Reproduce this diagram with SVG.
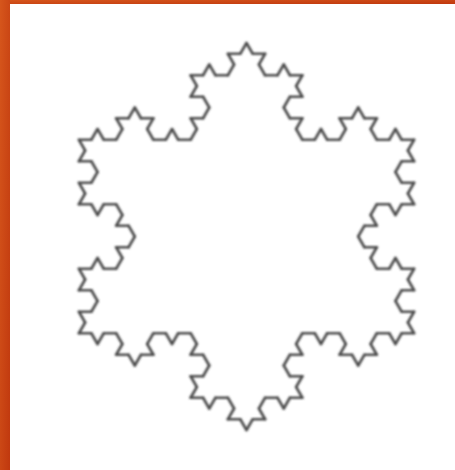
<svg xmlns="http://www.w3.org/2000/svg" xmlns:xlink="http://www.w3.org/1999/xlink" width="455" height="470" viewBox="0 0 455 470">
<style>
.seg{stroke:#4a4a4a;stroke-width:2.6;stroke-linecap:round;fill:none;vector-effect:non-scaling-stroke}
</style>
<defs>
<linearGradient id="frameGrad" x1="0" y1="0" x2="1" y2="1">
<stop offset="0" stop-color="#d6561c"/>
<stop offset="1" stop-color="#c0380e"/>
</linearGradient>
<filter id="soft" filterUnits="userSpaceOnUse" x="0" y="0" width="455" height="470">
<feGaussianBlur stdDeviation="1.3"/>
</filter>
<g id="k0"><line class="seg" x1="0" y1="0" x2="1" y2="0"/></g>
<g id="k1">
<use href="#k0" xlink:href="#k0" transform="scale(0.333333)"/>
<use href="#k0" xlink:href="#k0" transform="translate(0.333333,0) rotate(-60) scale(0.333333)"/>
<use href="#k0" xlink:href="#k0" transform="translate(0.5,-0.288675) rotate(60) scale(0.333333)"/>
<use href="#k0" xlink:href="#k0" transform="translate(0.666667,0) scale(0.333333)"/>
</g>
<g id="k2">
<use href="#k1" xlink:href="#k1" transform="scale(0.333333)"/>
<use href="#k1" xlink:href="#k1" transform="translate(0.333333,0) rotate(-60) scale(0.333333)"/>
<use href="#k1" xlink:href="#k1" transform="translate(0.5,-0.288675) rotate(60) scale(0.333333)"/>
<use href="#k1" xlink:href="#k1" transform="translate(0.666667,0) scale(0.333333)"/>
</g>
<g id="k3">
<use href="#k2" xlink:href="#k2" transform="scale(0.333333)"/>
<use href="#k2" xlink:href="#k2" transform="translate(0.333333,0) rotate(-60) scale(0.333333)"/>
<use href="#k2" xlink:href="#k2" transform="translate(0.5,-0.288675) rotate(60) scale(0.333333)"/>
<use href="#k2" xlink:href="#k2" transform="translate(0.666667,0) scale(0.333333)"/>
</g>
</defs>
<rect x="0" y="0" width="455" height="470" fill="#ffffff"/>
<g id="frame">
<rect x="0" y="0" width="455" height="4" fill="url(#frameGrad)"/>
<rect x="0" y="0" width="10" height="470" fill="url(#frameGrad)"/>
</g>
<g id="snowflake" filter="url(#soft)">
<use href="#k3" xlink:href="#k3" transform="translate(246.5,43) rotate(60) scale(335.15)"/>
<use href="#k3" xlink:href="#k3" transform="translate(414.07,333.25) rotate(180) scale(335.15)"/>
<use href="#k3" xlink:href="#k3" transform="translate(78.93,333.25) rotate(-60) scale(335.15)"/>
</g>
</svg>
